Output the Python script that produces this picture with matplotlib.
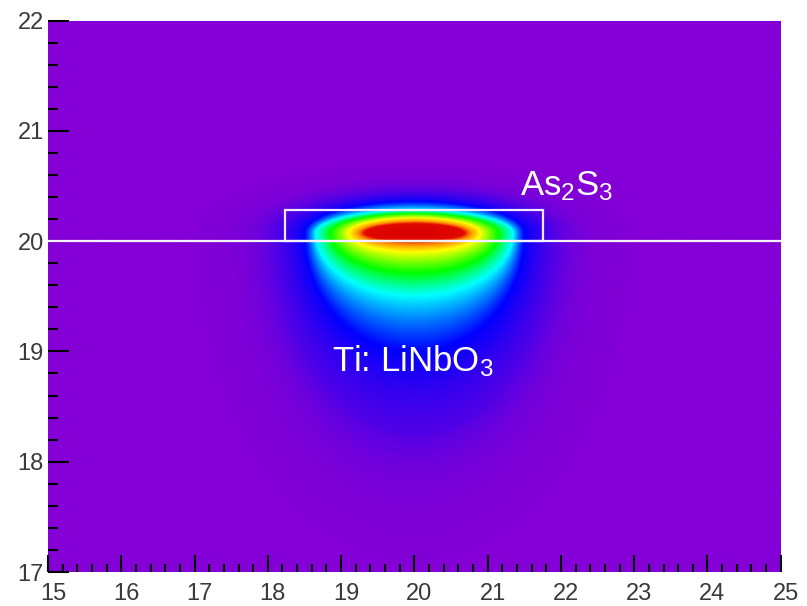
import numpy as np
import matplotlib
matplotlib.use("Agg")
import matplotlib.pyplot as plt
from matplotlib.colors import LinearSegmentedColormap
from matplotlib.patches import Rectangle
from matplotlib.transforms import ScaledTranslation

plt.rcParams['font.family'] = ['Liberation Sans', 'DejaVu Sans']
plt.rcParams['mathtext.fontset'] = 'custom'
plt.rcParams['mathtext.rm'] = 'Liberation Sans'
plt.rcParams['mathtext.default'] = 'regular'

# Axis ranges and ticks (micrometres)
x_range = [15, 25]
y_range = [17, 22]
x_ticks = [15, 16, 17, 18, 19, 20, 21, 22, 23, 24, 25]
y_ticks = [17, 18, 19, 20, 21, 22]

# Waveguide geometry: As2S3 strip on top of Ti:LiNbO3 substrate surface
surface_y = 20.0
strip_x = [18.24, 21.76]
strip_y = [20.0, 20.28]

# Mode intensity: peak position and iso-intensity contour extents (um)
mode_center = [20.0, 20.07]
iso_level = [1.0, 0.93, 0.78, 0.60, 0.45, 0.25, 0.10, 0.02, 0.002]
iso_half_width = [0.0, 0.65, 0.90, 1.15, 1.35, 1.50, 1.90, 2.40, 3.2]
iso_depth = [0.0, 0.05, 0.17, 0.36, 0.57, 1.08, 1.80, 2.40, 3.2]
iso_height = [0.0, 0.08, 0.14, 0.18, 0.21, 0.29, 0.38, 0.50, 0.7]
lower_shape = 2.0                # exponent of the contour shape below the peak

# Colour scale: purple -> blue -> cyan -> green -> yellow -> orange -> red
cmap_pos = [0.0, 0.25, 0.45, 0.60, 0.78, 0.86, 0.91, 1.0]
cmap_col = ['#8400d6', '#0000ff', '#00ffff', '#00ff00', '#ffff00',
            '#ff8c00', '#e40a00', '#d60000']

labels = [("As$_2$S$_3$", 21.44, 20.42), ("Ti: LiNbO$_3$", 18.88, 18.82)]

cmap = LinearSegmentedColormap.from_list("mode", list(zip(cmap_pos, cmap_col)))

xs = np.linspace(x_range[0], x_range[1], 1200)
ys = np.linspace(y_range[0], y_range[1], 700)
X, Y = np.meshgrid(xs, ys)
dx = np.abs(X - mode_center[0])
dy = Y - mode_center[1]
below = dy < 0
d = np.abs(dy)

iso_F = -np.log(np.array(iso_level))


def half_width(F):
    return np.interp(F, iso_F, iso_half_width)


def half_depth(F):
    return np.where(below, np.interp(F, iso_F, iso_depth),
                    np.interp(F, iso_F, iso_height))


# Each iso-intensity contour is a closed curve through the tabulated
# extents; find the contour passing through every grid point.
expo = np.where(below, lower_shape, 2.0)
lo = np.full(X.shape, 1e-9)
hi = np.full(X.shape, iso_F[-1])
for _ in range(40):
    mid = 0.5 * (lo + hi)
    g = (dx / half_width(mid)) ** 2 + (d / half_depth(mid)) ** expo
    inside = g <= 1.0
    hi = np.where(inside, mid, hi)
    lo = np.where(inside, lo, mid)
field = np.exp(-0.5 * (lo + hi))

fig = plt.figure(figsize=(8.07, 6.06), dpi=100)
ax = fig.add_axes([0.0595, 0.0561, 0.908, 0.910])
ax.imshow(field, extent=[x_range[0], x_range[1], y_range[0], y_range[1]],
          origin='lower', aspect='auto', cmap=cmap, vmin=0, vmax=1,
          interpolation='bilinear')

ax.axhline(surface_y, color='#f4f0ff', lw=1.6)
ax.add_patch(Rectangle((strip_x[0], strip_y[0]), strip_x[1] - strip_x[0],
                       strip_y[1] - strip_y[0], fill=False,
                       edgecolor='#f0e8ff', lw=1.6))

for txt, tx, ty in labels:
    ax.text(tx, ty, txt, color='white', fontsize=25, ha='left',
            va='baseline')

ax.set_xlim(x_range)
ax.set_ylim(y_range)
ax.set_xticks(x_ticks)
ax.set_yticks(y_ticks)
ax.set_xticks(np.arange(x_range[0], x_range[1] + 0.01, 0.2), minor=True)
ax.set_yticks(np.arange(y_range[0], y_range[1] + 0.01, 0.2), minor=True)
ax.set_xticklabels([str(t) for t in x_ticks])
ax.set_yticklabels([str(t) for t in y_ticks])

for s in ax.spines.values():
    s.set_visible(False)

ax.tick_params(which='both', direction='in', color='black', width=1.5,
               labelsize=17, labelcolor='#3a3a3a')
ax.xaxis.set_tick_params(which='major', length=12, pad=8)
ax.xaxis.set_tick_params(which='minor', length=6)
ax.yaxis.set_tick_params(which='major', length=15, pad=3)
ax.yaxis.set_tick_params(which='minor', length=7.5)

shift = ScaledTranslation(5 / 100, 0, fig.dpi_scale_trans)
for lbl in ax.get_xticklabels():
    lbl.set_transform(lbl.get_transform() + shift)

fig.savefig("out.png", dpi=100)
